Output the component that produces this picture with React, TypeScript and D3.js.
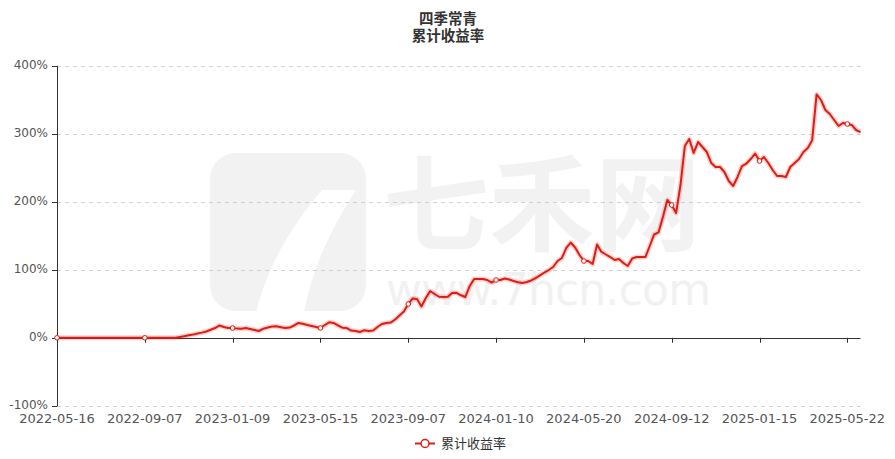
import React from "react";
import * as d3 from "d3";

// ---- data ----
const title1 = "四季常青";
const title2 = "累计收益率";
const seriesName = "累计收益率";

const tickLabels = [
  "2022-05-16", "2022-09-07", "2023-01-09", "2023-05-15", "2023-09-07",
  "2024-01-10", "2024-05-20", "2024-09-12", "2025-01-15", "2025-05-22",
];
const labelEvery = 20;

const yTicks = [-100, 0, 100, 200, 300, 400];

// cumulative return (%), one value per category step
const values = [
  0, 0, 0, 0, 0, 0, 0, 0, 0, 0,
  0, 0, 0, 0, 0, 0, 0, 0, 0, 0,
  0, 0, 0, 0, 0, 0, 0, 0, 1.2, 2.4,
  3.7, 4.7, 6.3, 7.6, 9.3, 11.8, 14.4, 18.1, 15.9, 14.4,
  14.4, 13.5, 13.2, 14.4, 12.9, 11.5, 10.0, 13.4, 15.1, 16.6,
  16.9, 15.6, 14.4, 15.1, 18.1, 21.8, 20.6, 18.8, 17.4, 15.9,
  14.4, 18.8, 22.8, 21.8, 18.1, 14.9, 14.4, 10.7, 10.0, 8.5,
  11.2, 10.0, 10.7, 15.9, 20.3, 21.8, 22.4, 26.9, 32.8, 38.7,
  49.7, 57.8, 57.1, 46.0, 58.5, 68.8, 64.4, 60.4, 60.0, 60.4,
  65.9, 66.2, 62.5, 60.0, 76.2, 86.5, 86.5, 86.5, 85.0, 81.3,
  85.0, 85.0, 87.2, 85.7, 83.5, 81.6, 80.6, 82.1, 84.3, 87.9,
  91.9, 96.0, 99.7, 104.1, 112.9, 117.4, 132.1, 140.1, 132.8, 121.8,
  112.9, 112.9, 108.5, 137.2, 126.2, 122.5, 118.8, 114.4, 115.9, 110.0,
  105.6, 116.6, 118.8, 118.8, 118.8, 135.0, 151.9, 154.9, 177.6, 202.6,
  195.3, 183.5, 224.7, 282.1, 292.4, 271.8, 287.9, 280.6, 273.2, 257.1,
  251.2, 251.2, 243.8, 230.6, 223.2, 236.5, 252.6, 256.3, 262.9, 271.0,
  260.0, 265.9, 257.1, 246.8, 237.9, 237.9, 236.5, 251.2, 257.1, 262.9,
  273.2, 279.1, 290.6, 357.9, 349.7, 335.0, 329.1, 320.3, 311.5, 315.9,
  314.4, 313.0, 305.6, 302.6,
];

// ---- layout ----
const W = 895;
const H = 459;
const left = 57;
const right = 860.5;
const top = 65.8;
const bottom = 405.8;
const RED = "#dc1e14";
const FONT = "'DejaVu Sans', sans-serif";
const CJK = "'Noto Sans CJK SC', 'Noto Sans', sans-serif";

export default function App() {
  const x = d3.scaleLinear().domain([0, values.length - 1]).range([left, right]);
  const y = d3.scaleLinear().domain([-100, 400]).range([bottom, top]);
  const line = d3
    .line<number>()
    .x((_, i) => x(i))
    .y((d) => y(d))
    .curve(d3.curveLinear);
  const path = line(values) || "";
  const markerIdx = tickLabels.map((_, k) => k * labelEvery);

  return (
    <svg
      width={W}
      height={H}
      style={{ position: "fixed", left: 0, top: 0, background: "#fff" }}
    >
      <rect x={0} y={0} width={W} height={H} fill="#fff" />

      {/* watermark */}
      <g>
        <rect x={210} y={153} width={156} height={158} rx={26} fill="#f2f2f2" />
        <path
          d="M322,190 L356,190 C330,230 312,270 304,312 L256,312 C268,265 292,225 322,190 Z"
          fill="#fff"
        />
        <text
          x={383}
          y={243}
          fontFamily={CJK}
          fontSize={104}
          fontWeight={700}
          fill="#f2f2f2"
          textLength={318}
          lengthAdjust="spacingAndGlyphs"
        >
          七禾网
        </text>
        <text
          x={386}
          y={305}
          fontFamily="'DejaVu Sans', sans-serif"
          fontSize={44}
          fill="#f1f1f1"
          textLength={325}
          lengthAdjust="spacing"
        >
          www.7hcn.com
        </text>
      </g>

      {/* title */}
      <text x={448} y={24} textAnchor="middle" fontFamily={CJK} fontSize={14.5} fontWeight={700} fill="#333">
        {title1}
      </text>
      <text x={448} y={41} textAnchor="middle" fontFamily={CJK} fontSize={14.5} fontWeight={700} fill="#333">
        {title2}
      </text>

      {/* grid */}
      {yTicks.map((t) =>
        t === 0 ? null : (
          <line
            key={t}
            x1={left}
            x2={right}
            y1={Math.round(y(t)) + 0.5}
            y2={Math.round(y(t)) + 0.5}
            stroke="#d0d0d0"
            strokeDasharray="4 4"
          />
        )
      )}

      {/* y axis */}
      <line x1={left + 0.5} x2={left + 0.5} y1={top} y2={bottom + 0.5} stroke="#333" />
      {yTicks.map((t) => (
        <g key={"yt" + t}>
          <line
            x1={left - 5}
            x2={left}
            y1={Math.round(y(t)) + 0.5}
            y2={Math.round(y(t)) + 0.5}
            stroke="#333"
          />
          <text
            x={left - 9}
            y={y(t)}
            textAnchor="end"
            dominantBaseline="middle"
            fontFamily={FONT}
            fontSize={12}
            fill="#555"
          >
            {t + "%"}
          </text>
        </g>
      ))}

      {/* x axis on zero */}
      <line x1={left} x2={right} y1={Math.round(y(0)) + 0.5} y2={Math.round(y(0)) + 0.5} stroke="#333" />
      {markerIdx.map((idx, k) => (
        <g key={"xt" + k}>
          {k > 0 && (
            <line
              x1={Math.round(x(idx)) + 0.5}
              x2={Math.round(x(idx)) + 0.5}
              y1={y(0)}
              y2={y(0) + 5}
              stroke="#333"
            />
          )}
          <text
            x={x(idx)}
            y={419.5}
            textAnchor="middle"
            dominantBaseline="middle"
            fontFamily={FONT}
            fontSize={13}
            fill="#555"
          >
            {tickLabels[k]}
          </text>
        </g>
      ))}

      {/* series */}
      <path d={path} fill="none" stroke={RED} strokeOpacity={0.2} strokeWidth={5} strokeLinejoin="round" />
      <path d={path} fill="none" stroke={RED} strokeWidth={2} strokeLinejoin="round" />
      {markerIdx.map((idx) => (
        <circle key={"m" + idx} cx={x(idx)} cy={y(values[idx])} r={2.3} fill="#fff" stroke={RED} strokeWidth={1} />
      ))}

      {/* legend */}
      <line x1={415} x2={435} y1={443.5} y2={443.5} stroke={RED} strokeWidth={2} />
      <circle cx={425} cy={443.5} r={4} fill="#fff" stroke={RED} strokeWidth={1.5} />
      <text x={441} y={444} dominantBaseline="middle" fontFamily={CJK} fontSize={13} fill="#333">
        {seriesName}
      </text>
    </svg>
  );
}
